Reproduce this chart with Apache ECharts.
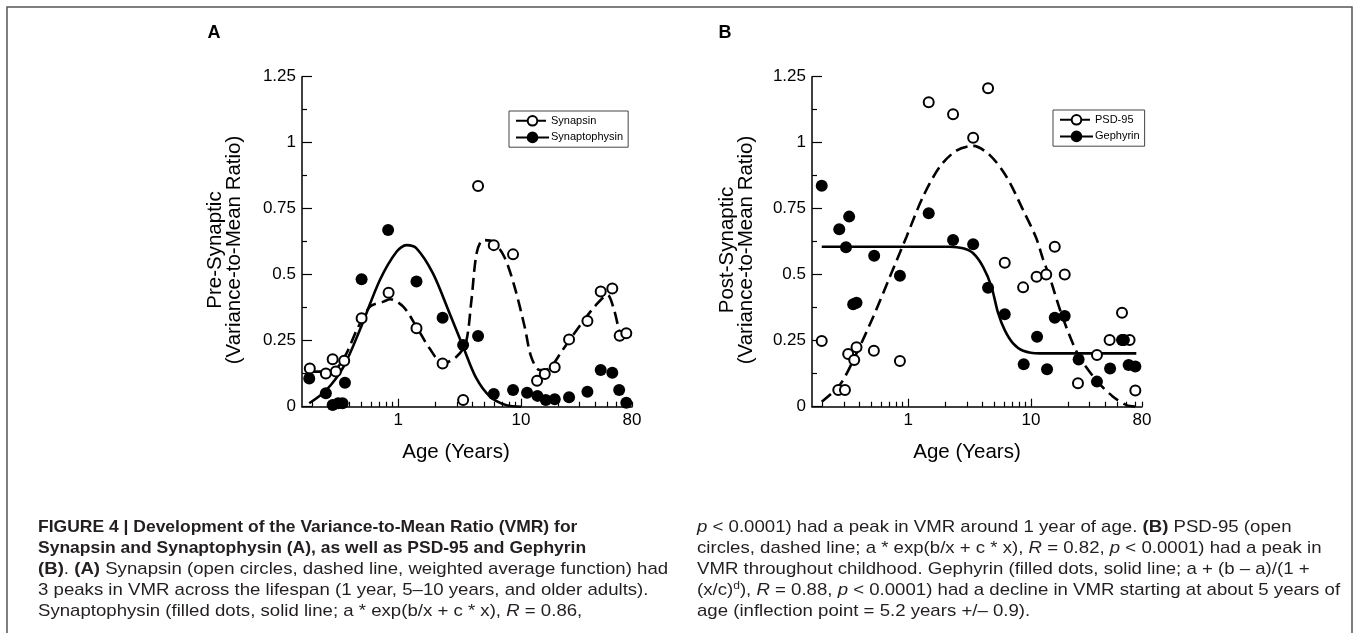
<!DOCTYPE html>
<html>
<head>
<meta charset="utf-8">
<title>Figure 4 - VMR development</title>
<script src="https://cdn.jsdelivr.net/npm/echarts@6/dist/echarts.min.js"></script>
<style>
  html, body { margin: 0; padding: 0; background: #fff; }
  #chart { width: 1354px; height: 633px; }
</style>
</head>
<body>
<div id="chart"></div>
<script>
// panel A - open circles (age in years, VMR)
var synapsinPts = [
  [0.191, 0.145], [0.258, 0.126], [0.293, 0.18], [0.311, 0.133], [0.364, 0.174],
  [0.504, 0.335], [0.836, 0.432], [1.41, 0.297], [2.30, 0.164], [3.38, 0.025],
  [4.47, 0.836], [6.0, 0.612], [8.61, 0.577], [13.5, 0.098], [15.6, 0.124],
  [18.8, 0.149], [24.6, 0.255], [34.7, 0.325], [44.5, 0.436], [55.3, 0.448],
  [63.5, 0.269], [71.9, 0.278]
];
// weighted average curve (dashed)
var synapsinFit = [
  [0.2, 0.133], [0.26, 0.133], [0.315, 0.145], [0.38, 0.202], [0.46, 0.29],
  [0.59, 0.379], [0.76, 0.398], [0.86, 0.407], [1.1, 0.379], [1.41, 0.303],
  [1.8, 0.221], [2.32, 0.164], [2.98, 0.189], [3.55, 0.24], [3.95, 0.404],
  [4.35, 0.581], [4.9, 0.631], [5.9, 0.625], [7.3, 0.568], [8.85, 0.455],
  [10.7, 0.303], [12.1, 0.189], [14.2, 0.139], [17, 0.145], [21.8, 0.215],
  [29.7, 0.303], [40.7, 0.385], [50.6, 0.423], [57.2, 0.366], [62.8, 0.29],
  [66, 0.265]
];
// panel A - filled dots
var synaptophysinPts = [
  [0.189, 0.107], [0.258, 0.051], [0.293, 0.006], [0.325, 0.013], [0.353, 0.013],
  [0.369, 0.091], [0.504, 0.483], [0.829, 0.669], [1.41, 0.474], [2.30, 0.337],
  [3.38, 0.234], [4.47, 0.268], [6.0, 0.048], [8.61, 0.063], [11.2, 0.053],
  [13.6, 0.041], [15.9, 0.025], [18.8, 0.028], [24.6, 0.036], [34.7, 0.057],
  [44.5, 0.139], [55.3, 0.129], [62.9, 0.063], [71.9, 0.015]
];
var synaptophysinFit = [
  [0.189, 0.013], [0.26, 0.063], [0.36, 0.152], [0.5, 0.303], [0.71, 0.48],
  [0.97, 0.587], [1.17, 0.612], [1.41, 0.6], [1.92, 0.505], [2.62, 0.354],
  [3.38, 0.227], [4.3, 0.11], [5.6, 0.038], [7.6, 0.006], [10, 0]
];
// panel B - open circles
var psdPts = [
  [0.198, 0.249], [0.27, 0.063], [0.306, 0.063], [0.325, 0.2], [0.364, 0.177],
  [0.38, 0.225], [0.526, 0.212], [0.857, 0.173], [1.47, 1.153], [2.32, 1.108],
  [3.38, 1.019], [4.47, 1.206], [6.11, 0.545], [8.62, 0.452], [11.1, 0.492],
  [13.3, 0.501], [15.6, 0.606], [18.8, 0.501], [24.1, 0.089], [34.4, 0.196],
  [43.6, 0.253], [55, 0.356], [56, 0.253], [63.4, 0.253], [70.6, 0.061]
];
var psdFit = [
  [0.198, 0.019], [0.278, 0.082], [0.38, 0.202], [0.52, 0.341], [0.71, 0.492],
  [0.97, 0.644], [1.32, 0.795], [1.81, 0.909], [2.47, 0.97], [3.38, 0.988],
  [4.62, 0.953], [6.31, 0.871], [8.62, 0.745], [11, 0.64], [12.5, 0.56],
  [14.2, 0.49], [17.6, 0.354], [24, 0.2], [34, 0.1], [46, 0.04], [60, 0.006],
  [75, 0]
];
// panel B - filled dots
var gephyrinPts = [
  [0.198, 0.837], [0.275, 0.672], [0.312, 0.604], [0.331, 0.72], [0.357, 0.388],
  [0.38, 0.394], [0.529, 0.572], [0.857, 0.496], [1.47, 0.733], [2.32, 0.631],
  [3.38, 0.615], [4.47, 0.451], [6.11, 0.35], [8.72, 0.161], [11.2, 0.265],
  [13.5, 0.142], [15.6, 0.337], [18.8, 0.344], [24.4, 0.179], [34.4, 0.095],
  [44, 0.145], [55, 0.253], [57, 0.253], [62.3, 0.158], [70.6, 0.152]
];
var gephyrinFit = [
  [0.198, 0.606], [1, 0.606], [2.18, 0.606], [2.8, 0.6], [3.38, 0.581],
  [4.07, 0.53], [4.76, 0.455], [5.4, 0.354], [6.11, 0.29], [7.14, 0.24],
  [8.62, 0.212], [11.7, 0.202], [20, 0.202], [71.9, 0.202]
];

// axis ticks / labels
var xMajorTicks = [1, 10];
var xMinorTicks = [0.2, 0.3, 0.4, 0.5, 0.6, 0.7, 0.8, 0.9,
                   2, 3, 4, 5, 6, 7, 8, 9,
                   20, 30, 40, 50, 60, 70, 80];
var xLabels = [1, 10, 80];
var xMin = 0.165, xMax = 80;

var FONT = 'Liberation Sans, Arial, Helvetica, sans-serif';
var chart = echarts.init(document.getElementById('chart'));

function xAxes(grid) {
  return [{
    gridIndex: grid, type: 'log', min: xMin, max: xMax, position: 'bottom',
    axisLine: { lineStyle: { color: '#000', width: 1.5 } },
    axisTick: { inside: true, length: 8, customValues: xMajorTicks, lineStyle: { color: '#000', width: 1.2 } },
    axisLabel: { customValues: xLabels, color: '#000', fontSize: 17, fontFamily: FONT, margin: 5,
                 formatter: function (v) { return String(Math.round(v)); } },
    splitLine: { show: false }, minorTick: { show: false }
  }, {
    gridIndex: grid, type: 'log', min: xMin, max: xMax, position: 'bottom', offset: 0,
    axisLine: { show: false },
    axisTick: { inside: true, length: 5, customValues: xMinorTicks, lineStyle: { color: '#000', width: 1.2 } },
    axisLabel: { show: false },
    splitLine: { show: false }
  }];
}

function yAxis(grid) {
  return {
    gridIndex: grid, type: 'value', min: 0, max: 1.25, interval: 0.25,
    axisLine: { show: true, lineStyle: { color: '#000', width: 1.5 } },
    axisTick: { show: true, inside: true, length: 10, lineStyle: { color: '#000', width: 1.2 } },
    minorTick: { show: true, splitNumber: 2, length: 5, lineStyle: { color: '#000', width: 1.2 } },
    axisLabel: { color: '#000', fontSize: 17, fontFamily: FONT, margin: 6 },
    splitLine: { show: false }, minorSplitLine: { show: false }
  };
}

function fitLine(name, data, xi, yi, dashed, sym) {
  return {
    name: name, type: 'line', data: data, xAxisIndex: xi, yAxisIndex: yi,
    smooth: 0.3, showSymbol: false, symbol: sym, symbolSize: 10,
    itemStyle: { color: '#000', borderColor: '#000', borderWidth: 2, opacity: 1 },
    lineStyle: { color: '#000', width: 2.6, type: dashed ? [12, 6] : 'solid' },
    z: 2
  };
}

function dots(name, data, xi, yi, open) {
  return {
    name: name, type: 'scatter', data: data, xAxisIndex: xi, yAxisIndex: yi,
    symbol: 'circle', symbolSize: open ? 10 : 12,
    itemStyle: open ? { color: '#fff', borderColor: '#000', borderWidth: 2, opacity: 1 }
                    : { color: '#000', opacity: 1 },
    z: 3
  };
}

function legend(names, left, top) {
  return {
    data: names, left: left, top: top, orient: 'vertical',
    itemWidth: 33, itemHeight: 12, itemGap: 5, padding: [4, 5, 4, 6],
    borderColor: '#444', borderWidth: 1, backgroundColor: '#fff',
    textStyle: { color: '#000', fontSize: 11, fontFamily: FONT, padding: [0, 0, 0, -3] },
    selectedMode: false
  };
}

function txt(x, y, text, size, extra) {
  var st = { text: text, fontSize: size, fontFamily: FONT, fill: '#000', align: 'left', verticalAlign: 'middle' };
  for (var k in extra) st[k] = extra[k];
  return { type: 'text', x: x, y: y, style: st, silent: true };
}

var CAP = 17, CAPB = 17, CAPC = '#231f20';
var rich = {
  b: { fontWeight: 'bold', fontSize: CAPB, fontFamily: FONT, color: CAPC },
  i: { fontStyle: 'italic', fontSize: CAP, fontFamily: FONT, color: CAPC },
  sup: { fontSize: 11, fontFamily: FONT, color: CAPC, verticalAlign: 'top', padding: [0, 0, 8, 0] }
};
function cap(x, y, text, bold) {
  var el = txt(x, y, text, bold ? 16.5 : CAP, { fill: CAPC, fontWeight: bold ? 'bold' : 'normal', rich: rich });
  el.scaleX = bold ? 1.06 : 1.095;
  return el;
}

var leftCaption = [
  ['FIGURE 4 | Development of the Variance-to-Mean Ratio (VMR) for', true],
  ['Synapsin and Synaptophysin (A), as well as PSD-95 and Gephyrin', true],
  ['{b|(B)}. {b|(A)} Synapsin (open circles, dashed line, weighted average function) had', false],
  ['3 peaks in VMR across the lifespan (1 year, 5–10 years, and older adults).', false],
  ['Synaptophysin (filled dots, solid line; a * exp(b/x + c * x), {i|R} = 0.86,', false]
];
var rightCaption = [
  '{i|p} < 0.0001) had a peak in VMR around 1 year of age. {b|(B)} PSD-95 (open',
  'circles, dashed line; a * exp(b/x + c * x), {i|R} = 0.82, {i|p} < 0.0001) had a peak in',
  'VMR throughout childhood. Gephyrin (filled dots, solid line; a + (b – a)/(1 +',
  '(x/c){sup|d}), {i|R} = 0.88, {i|p} < 0.0001) had a decline in VMR starting at about 5 years of',
  'age (inflection point = 5.2 years +/– 0.9).'
];

var graphics = [
  { type: 'rect', shape: { x: 7, y: 7, width: 1345, height: 640 }, style: { fill: 'none', stroke: '#555', lineWidth: 1.5 }, silent: true },
  txt(214, 33, 'A', 18, { fontWeight: 'bold', align: 'center' }),
  txt(725, 33, 'B', 18, { fontWeight: 'bold', align: 'center' }),
  txt(456, 452, 'Age (Years)', 20.5, { align: 'center' }),
  txt(967, 452, 'Age (Years)', 20.5, { align: 'center' }),
  { type: 'text', x: 225, y: 250, rotation: Math.PI / 2, silent: true,
    style: { text: 'Pre-Synaptic\n(Variance-to-Mean Ratio)', fontSize: 20.5, fontFamily: FONT, fill: '#000', align: 'center', verticalAlign: 'middle', lineHeight: 19 } },
  { type: 'text', x: 737, y: 250, rotation: Math.PI / 2, silent: true,
    style: { text: 'Post-Synaptic\n(Variance-to-Mean Ratio)', fontSize: 20.5, fontFamily: FONT, fill: '#000', align: 'center', verticalAlign: 'middle', lineHeight: 19 } }
];
leftCaption.forEach(function (l, i) { graphics.push(cap(38, 527 + i * 21, l[0], l[1])); });
rightCaption.forEach(function (l, i) { graphics.push(cap(697, 527 + i * 21, l, false)); });

chart.setOption({
  animation: false,
  backgroundColor: '#fff',
  grid: [
    { left: 302, top: 76.7, width: 330, height: 330 },
    { left: 812, top: 76.7, width: 330, height: 330 }
  ],
  xAxis: xAxes(0).concat(xAxes(1)),
  yAxis: [yAxis(0), yAxis(1)],
  legend: [
    legend(['Synapsin', 'Synaptophysin'], 509, 111),
    legend(['PSD-95', 'Gephyrin'], 1053, 110)
  ],
  series: [
    fitLine('Synapsin', synapsinFit, 0, 0, true, 'emptyCircle'),
    fitLine('Synaptophysin', synaptophysinFit, 0, 0, false, 'circle'),
    fitLine('PSD-95', psdFit, 2, 1, true, 'emptyCircle'),
    fitLine('Gephyrin', gephyrinFit, 2, 1, false, 'circle'),
    dots('Synapsin', synapsinPts, 0, 0, true),
    dots('Synaptophysin', synaptophysinPts, 0, 0, false),
    dots('PSD-95', psdPts, 2, 1, true),
    dots('Gephyrin', gephyrinPts, 2, 1, false)
  ],
  graphic: graphics
});
</script>
</body>
</html>
